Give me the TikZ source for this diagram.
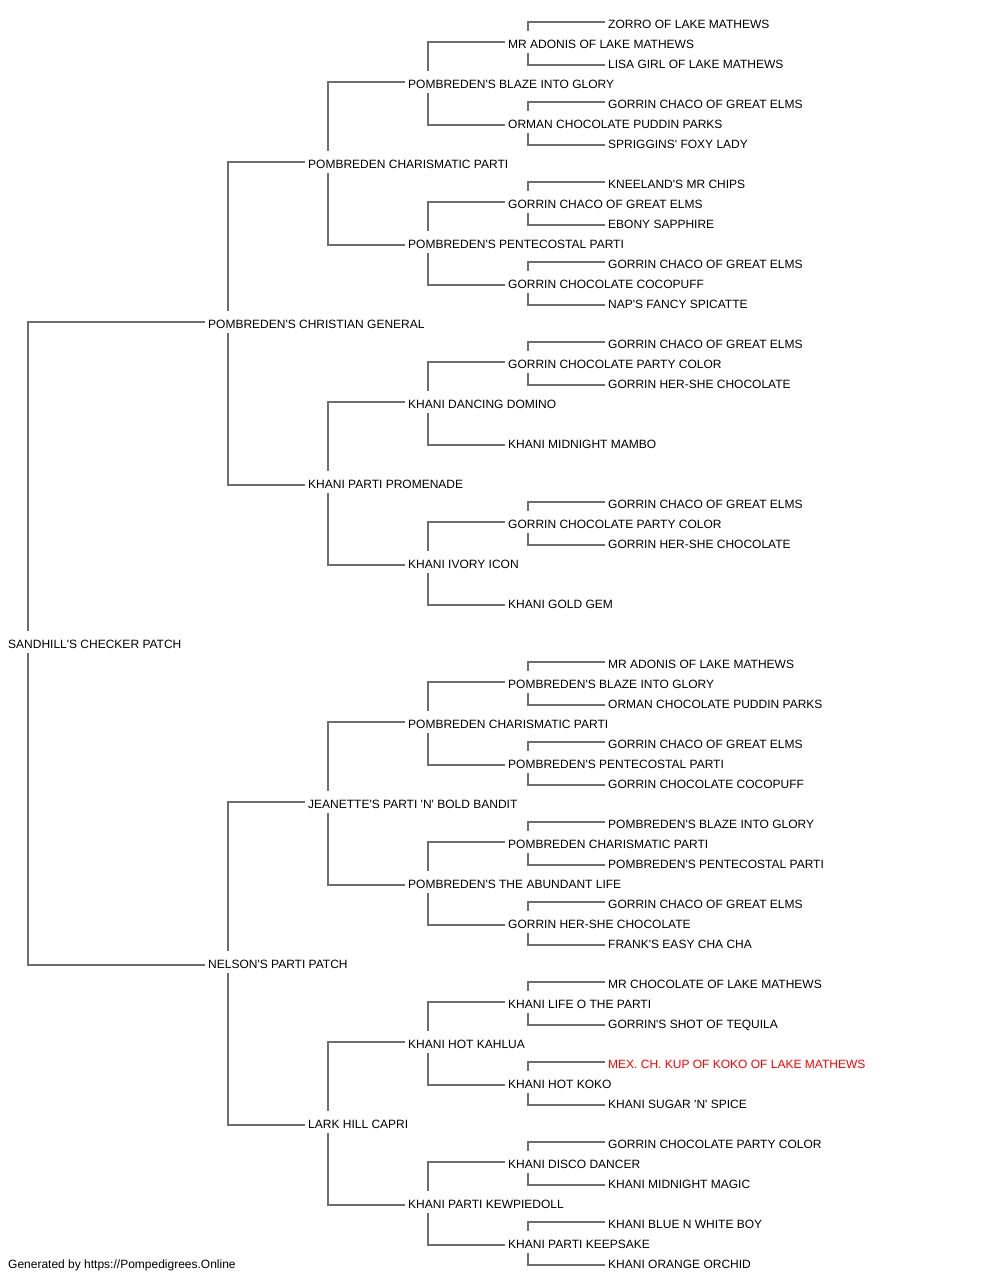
\documentclass[tikz,border=0pt]{standalone}
\usepackage{fontspec}
\setmainfont{Liberation Sans}[Ligatures=TeXOff]
\definecolor{lineg}{HTML}{6E6E6E}
\definecolor{redname}{HTML}{FF0000}
\begin{document}
\begin{tikzpicture}[x=1pt,y=-1pt,
  ped/.style={anchor=base west, inner xsep=3pt, inner ysep=4.5pt, text height=13pt, text depth=0pt, font=\fontsize{12}{14}\selectfont, text=black},
  conn/.style={draw=lineg, line width=1.2pt}]
\useasboundingbox[fill=white] (0,0) rectangle (1000,1280);
% generation 0 and 1
\node[ped] (n32) at (5,{8.5+20*32}) {SANDHILL'S CHECKER PATCH};
\foreach \s/\t in {16/POMBREDEN'S CHRISTIAN GENERAL, 48/NELSON'S PARTI PATCH}
  \node[ped] (n\s) at (205,{8.5+20*\s}) {\t};
% generation 2
\foreach \s/\t in {8/POMBREDEN CHARISMATIC PARTI, 24/KHANI PARTI PROMENADE, 40/JEANETTE'S PARTI 'N' BOLD BANDIT, 56/LARK HILL CAPRI}
  \node[ped] (n\s) at (305,{8.5+20*\s}) {\t};
% generation 3
\foreach \s/\t in {4/POMBREDEN'S BLAZE INTO GLORY, 12/POMBREDEN'S PENTECOSTAL PARTI, 20/KHANI DANCING DOMINO, 28/KHANI IVORY ICON, 36/POMBREDEN CHARISMATIC PARTI, 44/POMBREDEN'S THE ABUNDANT LIFE, 52/KHANI HOT KAHLUA, 60/KHANI PARTI KEWPIEDOLL}
  \node[ped] (n\s) at (405,{8.5+20*\s}) {\t};
% generation 4
\foreach \s/\t in {2/MR ADONIS OF LAKE MATHEWS, 6/ORMAN CHOCOLATE PUDDIN PARKS, 10/GORRIN CHACO OF GREAT ELMS, 14/GORRIN CHOCOLATE COCOPUFF, 18/GORRIN CHOCOLATE PARTY COLOR, 22/KHANI MIDNIGHT MAMBO, 26/GORRIN CHOCOLATE PARTY COLOR, 30/KHANI GOLD GEM, 34/POMBREDEN'S BLAZE INTO GLORY, 38/POMBREDEN'S PENTECOSTAL PARTI, 42/POMBREDEN CHARISMATIC PARTI, 46/GORRIN HER-SHE CHOCOLATE, 50/KHANI LIFE O THE PARTI, 54/KHANI HOT KOKO, 58/KHANI DISCO DANCER, 62/KHANI PARTI KEEPSAKE}
  \node[ped] (n\s) at (505,{8.5+20*\s}) {\t};
% generation 5
\foreach \s/\t in {1/ZORRO OF LAKE MATHEWS, 3/LISA GIRL OF LAKE MATHEWS, 5/GORRIN CHACO OF GREAT ELMS, 7/SPRIGGINS' FOXY LADY, 9/KNEELAND'S MR CHIPS, 11/EBONY SAPPHIRE, 13/GORRIN CHACO OF GREAT ELMS, 15/NAP'S FANCY SPICATTE, 17/GORRIN CHACO OF GREAT ELMS, 19/GORRIN HER-SHE CHOCOLATE, 25/GORRIN CHACO OF GREAT ELMS, 27/GORRIN HER-SHE CHOCOLATE, 33/MR ADONIS OF LAKE MATHEWS, 35/ORMAN CHOCOLATE PUDDIN PARKS, 37/GORRIN CHACO OF GREAT ELMS, 39/GORRIN CHOCOLATE COCOPUFF, 41/POMBREDEN'S BLAZE INTO GLORY, 43/POMBREDEN'S PENTECOSTAL PARTI, 45/GORRIN CHACO OF GREAT ELMS, 47/FRANK'S EASY CHA CHA, 49/MR CHOCOLATE OF LAKE MATHEWS, 51/GORRIN'S SHOT OF TEQUILA, 55/KHANI SUGAR 'N' SPICE, 57/GORRIN CHOCOLATE PARTY COLOR, 59/KHANI MIDNIGHT MAGIC, 61/KHANI BLUE N WHITE BOY, 63/KHANI ORANGE ORCHID}
  \node[ped] (n\s) at (605,{8.5+20*\s}) {\t};
\node[ped, text=redname] (n53) at (605,{8.5+20*53}) {MEX. CH. KUP OF KOKO OF LAKE MATHEWS};
% connectors
\foreach \p/\d in {32/16, 16/8, 48/8, 8/4, 24/4, 40/4, 56/4, 4/2, 12/2, 20/2, 28/2, 36/2, 44/2, 52/2, 60/2, 2/1, 6/1, 10/1, 14/1, 18/1, 26/1, 34/1, 38/1, 42/1, 46/1, 50/1, 54/1, 58/1, 62/1}{
  \pgfmathtruncatemacro\ca{\p-\d}
  \pgfmathtruncatemacro\cb{\p+\d}
  \draw[conn] ([xshift=23pt]n\p.north west) |- (n\ca.west);
  \draw[conn] ([xshift=23pt]n\p.south west) |- ([yshift=-3pt]n\cb.west);
}
% footer
\node[ped] (foot) at (5,1268) {Generated by https://Pompedigrees.Online};
\end{tikzpicture}
\end{document}
